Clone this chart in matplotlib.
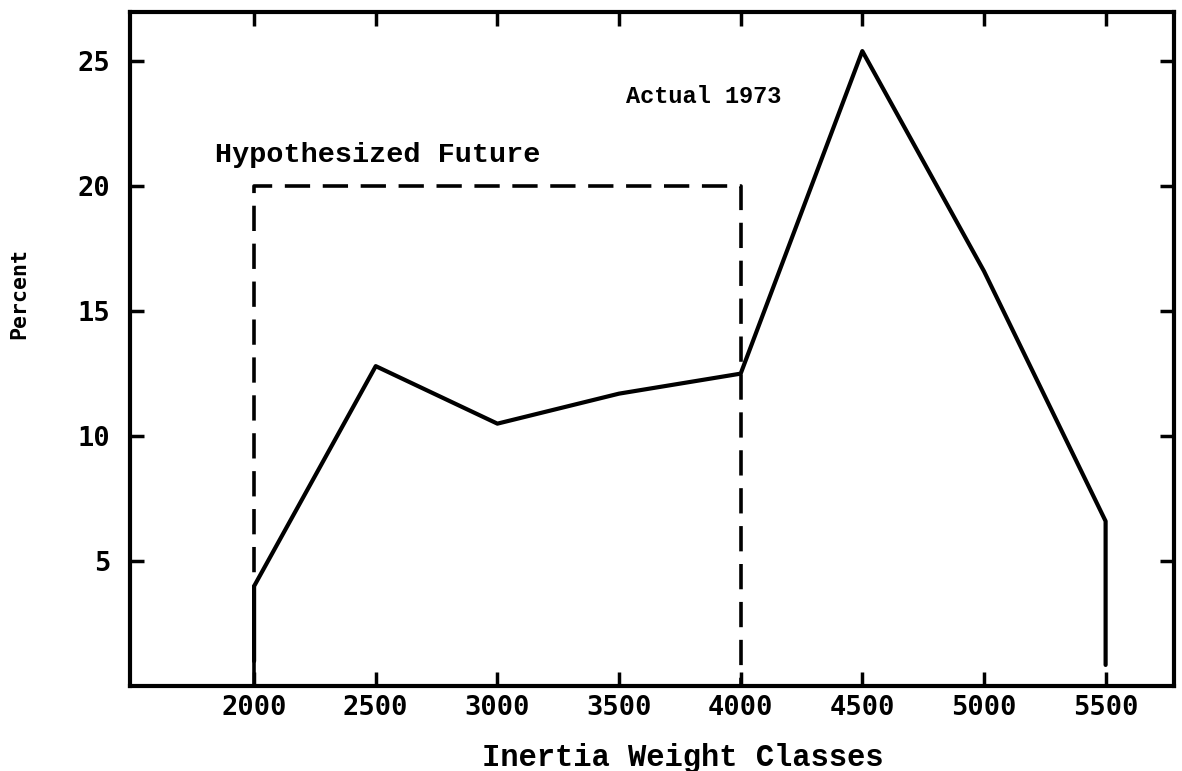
import matplotlib.pyplot as plt

# Actual 1973 distribution (percent by inertia weight class)
actual_x = [2000, 2000, 2500, 3000, 3500, 4000, 4500, 5000, 5500, 5500]
actual_y = [1.0, 4.0, 12.8, 10.5, 11.7, 12.5, 25.4, 16.6, 6.6, 0.85]

# Hypothesized future: flat 20% between 2000 and 4000
future_x = [2000, 2000, 4000, 4000]
future_y = [0, 20, 20, 0]

x_ticks = [2000, 2500, 3000, 3500, 4000, 4500, 5000, 5500]
y_ticks = [5, 10, 15, 20, 25]

mono = ['Liberation Mono', 'DejaVu Sans Mono']
tick_font = ['DejaVu Sans Mono']

fig = plt.figure(figsize=(11.82, 7.71), dpi=100)
ax = fig.add_axes([0.110, 0.110, 0.883, 0.874])

ax.plot(actual_x, actual_y, color='black', linewidth=3.0, solid_joinstyle='round', solid_capstyle='round')
ax.plot(future_x, future_y, color='black', linewidth=2.6, linestyle=(0, (7, 3.5)))

ax.set_xlim(1490, 5780)
ax.set_ylim(0, 26.95)

ax.set_xticks(x_ticks)
ax.set_xticklabels([str(v) for v in x_ticks], family=tick_font, fontweight='bold', fontsize=19.5)
ax.set_yticks(y_ticks)
ax.set_yticklabels([str(v) for v in y_ticks], family=tick_font, fontweight='bold', fontsize=19.5)

ax.tick_params(direction='in', length=10, width=2.5, top=True, right=True)
ax.tick_params(axis='x', pad=6)
ax.tick_params(axis='y', pad=14, labelright=False)
for s in ax.spines.values():
    s.set_linewidth(3)

ax.text(1838, 21.25, 'Hypothesized Future', family=mono, fontweight='bold', fontsize=20.5, va='center')
ax.text(3530, 23.6, 'Actual 1973', family=mono, fontweight='bold', fontsize=17, va='center')

ax.set_xlabel('Inertia Weight Classes', family=mono, fontweight='bold', fontsize=22, va='center')
ax.set_ylabel('Percent', family=tick_font, fontweight='bold', fontsize=15.5, va='center')
ax.xaxis.set_label_coords(0.53, -0.107)
ax.yaxis.set_label_coords(-0.106, 0.583)

fig.savefig('out.png', dpi=100)
